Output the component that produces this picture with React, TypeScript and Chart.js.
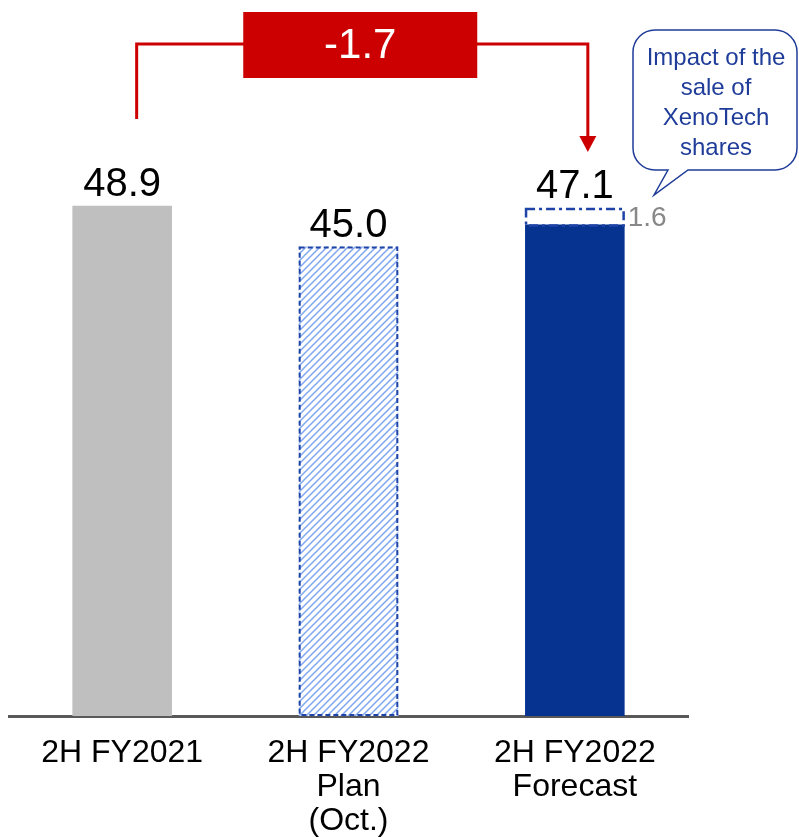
import React, { useEffect, useRef } from "react";
import { Chart, registerables } from "chart.js";

Chart.register(...registerables);

const categories = [["2H FY2021"], ["2H FY2022", "Plan", "(Oct.)"], ["2H FY2022", "Forecast"]];
const baseValues = [48.9, 45.0, 47.1];
const impactValues = [0, 0, 1.6];
const valueLabels = ["48.9", "45.0", "47.1"];
const impactLabel = "1.6";
const diffLabel = "-1.7";
const calloutLines = ["Impact of the", "sale of", "XenoTech", "shares"];

const NAVY = "#05338F";
const BORDER_NAVY = "#1F44A8";
const RED = "#CC0000";
const SANS = "'Liberation Sans', Arial, sans-serif";

function makeHatch(): CanvasPattern | string {
  const s = 7;
  const c = document.createElement("canvas");
  c.width = s;
  c.height = s;
  const g = c.getContext("2d");
  if (!g) return "#8AAEF0";
  g.fillStyle = "#ffffff";
  g.fillRect(0, 0, s, s);
  g.strokeStyle = "#7FA6EE";
  g.lineWidth = 1.5;
  g.beginPath();
  g.moveTo(-1, s + 1);
  g.lineTo(s + 1, -1);
  g.moveTo(-2, 2);
  g.lineTo(2, -2);
  g.moveTo(s - 2, s + 2);
  g.lineTo(s + 2, s - 2);
  g.stroke();
  const p = g.createPattern(c, "repeat");
  return p || "#8AAEF0";
}

const overlayPlugin = {
  id: "overlay",
  afterDatasetsDraw(chart: any) {
    const ctx: CanvasRenderingContext2D = chart.ctx;
    const m0 = chart.getDatasetMeta(0);
    const m1 = chart.getDatasetMeta(1);
    const xs = chart.scales.x;
    ctx.save();

    // dashed border on plan bar
    {
      const el = m0.data[1].getProps(["x", "y", "base", "width"], true);
      ctx.strokeStyle = BORDER_NAVY;
      ctx.lineWidth = 2;
      ctx.setLineDash([5, 3]);
      ctx.strokeRect(el.x - el.width / 2 + 1, el.y + 1, el.width - 2, el.base - el.y - 2);
    }
    // dash-dot border on impact segment
    {
      const el = m1.data[2].getProps(["x", "y", "base", "width"], true);
      ctx.strokeStyle = BORDER_NAVY;
      ctx.lineWidth = 2.5;
      ctx.setLineDash([9, 4, 3, 4]);
      ctx.strokeRect(el.x - el.width / 2 + 1, el.y + 1, el.width - 2, el.base - el.y);
      ctx.setLineDash([]);
      ctx.fillStyle = "#888888";
      ctx.font = `28px ${SANS}`;
      ctx.textAlign = "left";
      ctx.textBaseline = "middle";
      ctx.fillText(impactLabel, el.x + el.width / 2 + 3, (el.y + el.base) / 2 + 2);
    }
    ctx.setLineDash([]);

    // value labels
    ctx.fillStyle = "#000";
    ctx.font = `40px ${SANS}`;
    ctx.textAlign = "center";
    ctx.textBaseline = "alphabetic";
    for (let i = 0; i < valueLabels.length; i++) {
      const a = m0.data[i];
      const b = m1.data[i];
      const top = Math.min(a.y, impactValues[i] ? b.y : a.y);
      ctx.fillText(valueLabels[i], a.x, top - 10);
    }

    // category labels
    ctx.fillStyle = "#000";
    ctx.font = `32px ${SANS}`;
    ctx.textAlign = "center";
    ctx.textBaseline = "alphabetic";
    const axisY = chart.chartArea.bottom;
    categories.forEach((lines, i) => {
      const px = xs.getPixelForValue(i);
      lines.forEach((t, j) => {
        ctx.fillText(t, px, axisY + 46 + j * 34);
      });
    });

    // red bracket
    const xL = m0.data[0].x + 14.5;
    const xR = m0.data[2].x + 13;
    const yH = 44;
    ctx.strokeStyle = RED;
    ctx.lineWidth = 3;
    ctx.beginPath();
    ctx.moveTo(xL, 119);
    ctx.lineTo(xL, yH);
    ctx.lineTo(xR, yH);
    ctx.lineTo(xR, 137);
    ctx.stroke();
    ctx.fillStyle = RED;
    ctx.beginPath();
    ctx.moveTo(xR - 8.5, 136);
    ctx.lineTo(xR + 8.5, 136);
    ctx.lineTo(xR, 152);
    ctx.closePath();
    ctx.fill();
    const cx = (xL + xR) / 2 - 2;
    ctx.fillRect(cx - 117, 12, 234, 66);
    ctx.fillStyle = "#fff";
    ctx.font = `42px ${SANS}`;
    ctx.textAlign = "center";
    ctx.textBaseline = "middle";
    ctx.fillText(diffLabel, cx, 46);

    // callout bubble
    const bx0 = 633, bx1 = 797, by0 = 30, by1 = 170, r = 22;
    ctx.beginPath();
    ctx.moveTo(bx0 + r, by0);
    ctx.lineTo(bx1 - r, by0);
    ctx.arcTo(bx1, by0, bx1, by0 + r, r);
    ctx.lineTo(bx1, by1 - r);
    ctx.arcTo(bx1, by1, bx1 - r, by1, r);
    ctx.lineTo(688, by1);
    ctx.lineTo(654, 195);
    ctx.lineTo(668, by1);
    ctx.lineTo(bx0 + r, by1);
    ctx.arcTo(bx0, by1, bx0, by1 - r, r);
    ctx.lineTo(bx0, by0 + r);
    ctx.arcTo(bx0, by0, bx0 + r, by0, r);
    ctx.closePath();
    ctx.fillStyle = "#fff";
    ctx.fill();
    ctx.strokeStyle = "#1F3C99";
    ctx.lineWidth = 1.5;
    ctx.stroke();
    ctx.fillStyle = "#1F3C99";
    ctx.font = `24px ${SANS}`;
    ctx.textAlign = "center";
    ctx.textBaseline = "alphabetic";
    calloutLines.forEach((t, i) => ctx.fillText(t, 716, 65 + i * 30));

    ctx.restore();
  },
};

export default function App() {
  const ref = useRef<HTMLCanvasElement | null>(null);
  useEffect(() => {
    if (!ref.current) return;
    const hatch = makeHatch();
    const chart = new Chart(ref.current, {
      type: "bar",
      data: {
        labels: categories.map((l) => l.join(" ")),
        datasets: [
          {
            label: "Base",
            data: baseValues,
            backgroundColor: ["#BFBFBF", hatch as any, NAVY],
            borderWidth: 0,
            barPercentage: 0.44,
            categoryPercentage: 1,
          },
          {
            label: "Impact of the sale of XenoTech shares",
            data: impactValues,
            backgroundColor: "#ffffff",
            borderWidth: 0,
            barPercentage: 0.44,
            categoryPercentage: 1,
          },
        ],
      },
      options: {
        responsive: false,
        animation: false,
        layout: { padding: { top: 90, left: 9, right: 111, bottom: 121 } },
        plugins: { legend: { display: false }, tooltip: { enabled: false } },
        scales: {
          x: {
            stacked: true,
            grid: { display: false, drawTicks: false },
            border: { display: true, color: "#595959", width: 3 },
            ticks: { display: false },
          },
          y: {
            stacked: true,
            display: false,
            min: 0,
            max: 60,
          },
        },
      },
      plugins: [overlayPlugin],
    });
    return () => chart.destroy();
  }, []);
  return (
    <div style={{ position: "absolute", left: 0, top: 0, width: 799, height: 837, background: "#fff" }}>
      <canvas ref={ref} width={799} height={837} style={{ width: 799, height: 837 }} />
    </div>
  );
}
